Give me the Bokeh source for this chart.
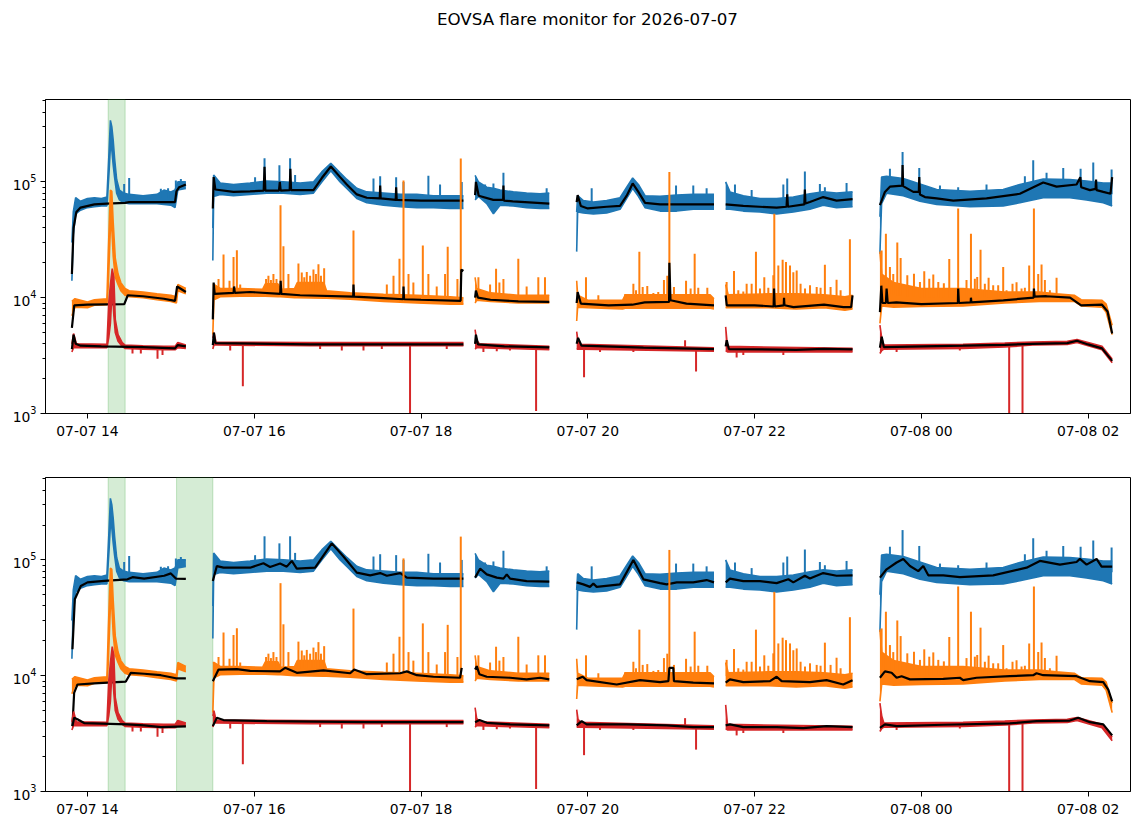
import math
from datetime import datetime
import numpy as np
from bokeh.plotting import figure
from bokeh.layouts import column
from bokeh.models import Range1d, FixedTicker, DatetimeTickFormatter, BoxAnnotation
from bokeh.core.properties import value
from bokeh.embed import file_html
from bokeh.resources import INLINE

TITLE = "EOVSA flare monitor for 2026-07-07"
DAY0 = datetime(2026, 7, 7)
X_MIN, X_MAX = 809.8, 1590.5          # minutes after 2026-07-07 00:00
Y_MIN, Y_MAX = 1e3, 5.15e5
TICK_HOURS = [14, 16, 18, 20, 22, 24, 26]
SPANS_TOP = [(854.9, 867.1)]
SPANS_BOTTOM = [(854.9, 867.1), (904.1, 930.2)]

C_BLUE, C_ORANGE, C_RED, C_GREEN = "#1f77b4", "#ff7f0e", "#d62728", "#2ca02c"

# raw series as (minute, low, high) envelopes per observing segment
BLUE_BAND = [
    [(828.8, 1.4e4, 3.0e4), (829.8, 3.5e4, 5.5e4), (831.5, 5.3e4, 7.3e4), (835, 5.7e4, 6.8e4), (840, 6.0e4, 7.2e4),
     (845, 6.1e4, 7.3e4), (850, 6.2e4, 7.2e4), (854, 6.2e4, 7.4e4), (855.5, 1.2e5, 1.8e5), (856.5, 2.0e5, 3.4e5),
     (857.5, 1.9e5, 3.0e5), (858.5, 1.4e5, 2.3e5), (859.5, 1.1e5, 1.6e5), (861, 8.0e4, 1.05e5), (863, 7.0e4, 8.5e4),
     (866, 6.6e4, 8.0e4), (870, 6.5e4, 7.8e4), (880, 6.5e4, 7.6e4), (890, 6.5e4, 7.8e4), (895, 6.4e4, 8.5e4),
     (900, 6.3e4, 8.2e4), (903, 6.0e4, 8.5e4), (905, 8.5e4, 1.0e5), (910.8, 8.8e4, 1.0e5)],
    [(930.2, 2.1e4, 4.0e4), (930.8, 7.5e4, 1.15e5), (935.5, 7.8e4, 9.8e4), (945.1, 7.6e4, 9.5e4), (957, 7.8e4, 9.8e4),
     (969, 8.0e4, 1.02e5), (981, 8.0e4, 1.0e5), (993, 7.8e4, 9.8e4), (1002.6, 8.0e4, 1.0e5), (1008.6, 1.0e5, 1.22e5),
     (1015.1, 1.25e5, 1.45e5), (1021.8, 1.0e5, 1.2e5), (1026.6, 8.8e4, 1.05e5), (1033.8, 7.2e4, 8.8e4),
     (1041, 6.6e4, 8.2e4), (1053, 6.3e4, 8.0e4), (1065, 6.1e4, 7.8e4), (1077, 6.0e4, 7.8e4), (1088.9, 6.0e4, 7.6e4),
     (1100.9, 5.9e4, 7.6e4), (1110.5, 5.9e4, 7.6e4)],
    [(1118.9, 7.0e4, 1.14e5), (1121.3, 7.5e4, 1.0e5), (1127.3, 6.5e4, 9.0e4), (1132.1, 5.3e4, 8.8e4),
     (1136.9, 6.3e4, 8.5e4), (1146.4, 6.2e4, 8.2e4), (1156, 6.0e4, 8.0e4), (1165.6, 5.9e4, 7.9e4), (1172.3, 5.9e4, 8.0e4)],
    [(1192.0, 2.5e4, 5.5e4), (1192.7, 5.5e4, 7.6e4), (1196.8, 5.4e4, 6.9e4), (1204, 5.3e4, 6.7e4), (1213.6, 5.4e4, 6.9e4),
     (1223.2, 5.8e4, 7.3e4), (1228, 7.2e4, 9.0e4), (1232.3, 8.8e4, 1.08e5), (1236.4, 7.5e4, 9.5e4), (1241.2, 6.0e4, 7.6e4),
     (1252, 5.6e4, 7.5e4), (1264, 5.6e4, 7.7e4), (1275.9, 5.8e4, 7.8e4), (1290.8, 5.8e4, 7.8e4)],
    [(1299.2, 5.8e4, 1.0e5), (1302.3, 5.8e4, 8.2e4), (1311.9, 5.6e4, 7.6e4), (1323.9, 5.5e4, 7.2e4), (1335.9, 5.3e4, 7.2e4),
     (1347.9, 5.5e4, 7.4e4), (1359.8, 5.8e4, 7.9e4), (1369.4, 6.3e4, 8.2e4), (1379, 6.0e4, 8.0e4), (1390.5, 6.1e4, 8.2e4)],
    [(1410.2, 2.4e4, 5.0e4), (1411.4, 6.5e4, 1.1e5), (1415, 8.0e4, 1.12e5), (1427, 7.6e4, 1.07e5), (1439, 6.8e4, 9.6e4),
     (1451, 6.4e4, 8.6e4), (1475, 6.1e4, 8.3e4), (1498.9, 6.2e4, 8.6e4), (1510.9, 6.6e4, 9.5e4), (1527.7, 7.3e4, 1.06e5),
     (1546.9, 7.3e4, 1.05e5), (1558.9, 7.0e4, 1.02e5), (1570.9, 6.6e4, 9.8e4), (1577.3, 6.2e4, 9.8e4)],
]
BLUE_SPIKES = [
    (866.4, 9.6e4), (870, 1.08e5), (892.8, 8.75e4), (898, 8.8e4), (903.6, 1.03e5), (907.2, 1.06e5),
    (960.6, 1.1e5), (967.4, 1.6e5), (978.1, 1.39e5), (985.8, 1.6e5), (989.4, 1.15e5), (1045.8, 1.07e5),
    (1050.6, 1.12e5), (1062.1, 1.1e5), (1067.4, 1.0e5), (1085.3, 1.13e5), (1093.7, 9.5e4), (1109.3, 1.0e5),
    (1126.1, 9.5e4), (1132.1, 9.7e4), (1139.3, 1.2e5), (1170.4, 8.8e4),
    (1202.8, 8.8e4), (1263.5, 9.3e4), (1275.9, 9.3e4), (1285.5, 8.8e4),
    (1305.9, 9.5e4), (1317.9, 8.5e4), (1340.7, 9.5e4), (1343.5, 1.07e5), (1356.2, 1.23e5), (1367.0, 9.6e4),
    (1370.6, 9.0e4), (1386.2, 9.8e4),
    (1417.4, 1.3e5), (1426.5, 1.81e5), (1438.5, 1.32e5), (1453.4, 9.3e4), (1466.5, 9.0e4), (1486.9, 9.5e4),
    (1514.5, 1.12e5), (1520.5, 1.54e5), (1530.1, 1.2e5), (1542.1, 1.32e5), (1554.6, 1.3e5), (1563.7, 1.47e5),
    (1576.9, 1.28e5),
]

ORANGE_BAND = [
    [(828.8, 7.0e3, 9.3e3), (831.0, 8.3e3, 9.8e3), (840, 8.2e3, 9.2e3), (845, 8.6e3, 9.6e3), (854, 8.7e3, 9.8e3),
     (855, 1.3e4, 2.5e4), (856.5, 4.0e4, 8.5e4), (857.5, 4.0e4, 8.3e4), (858.5, 2.3e4, 4.5e4), (860, 1.5e4, 2.2e4),
     (862, 1.3e4, 1.6e4), (864, 1.15e4, 1.35e4), (867, 1.05e4, 1.2e4), (870, 1.02e4, 1.15e4), (880, 1.0e4, 1.12e4),
     (890, 9.6e3, 1.08e4), (900, 9.3e3, 1.05e4), (904, 9.0e3, 1.02e4), (905, 1.15e4, 1.3e4), (910.8, 1.08e4, 1.2e4)],
    [(930.2, 4.8e3, 1.3e4), (931.0, 9.6e3, 1.3e4), (935.5, 1.02e4, 1.2e4), (950, 1.03e4, 1.2e4), (966, 1.03e4, 1.18e4),
     (968, 1.03e4, 1.32e4), (977, 1.02e4, 1.32e4), (979, 1.02e4, 1.18e4), (989, 1.0e4, 1.2e4), (991, 1.0e4, 1.35e4),
     (1010, 9.9e3, 1.35e4), (1012, 9.9e3, 1.15e4), (1029, 9.7e3, 1.1e4), (1053, 9.3e3, 1.07e4), (1077, 9.0e3, 1.05e4),
     (1101, 8.8e3, 1.02e4), (1110.5, 8.8e3, 1.0e4)],
    [(1118.9, 9.0e3, 1.5e4), (1120, 9.5e3, 1.2e4), (1130, 9.3e3, 1.1e4), (1150, 9.0e3, 1.05e4), (1172.3, 9.0e3, 1.05e4)],
    [(1192.0, 6.3e3, 1.4e4), (1192.7, 8.3e3, 1.05e4), (1200, 8.2e3, 9.5e3), (1225, 8.0e3, 9.5e3), (1227, 8.1e3, 1.06e4),
     (1288, 8.1e3, 1.06e4), (1290.8, 8.0e3, 9.8e3)],
    [(1299.2, 8.2e3, 1.3e4), (1301, 8.2e3, 1.06e4), (1330, 8.2e3, 1.08e4), (1350, 8.0e3, 1.08e4), (1370, 8.2e3, 1.06e4),
     (1385, 7.8e3, 1.02e4), (1390.5, 8.0e3, 1.05e4)],
    [(1410.2, 6.0e3, 2.5e4), (1411.5, 8.5e3, 1.6e4), (1420, 8.3e3, 1.35e4), (1440, 8.4e3, 1.2e4), (1470, 8.5e3, 1.2e4),
     (1500, 9.0e3, 1.12e4), (1525, 9.3e3, 1.12e4), (1537, 9.3e3, 1.08e4), (1550, 9.3e3, 1.05e4), (1555, 8.5e3, 9.6e3),
     (1570, 8.3e3, 9.5e3), (1573, 7.5e3, 8.8e3), (1577.3, 4.8e3, 5.8e3)],
]
ORANGE_SPIKES = [
    (934.3, 1.45e4), (937.9, 2.36e4), (942.2, 1.4e4), (945.1, 2.25e4), (947.5, 2.57e4), (949.9, 1.3e4),
    (968.5, 1.45e4), (970.2, 1.55e4), (972.0, 1.42e4), (973.8, 1.6e4), (976.0, 1.45e4), (978.9, 6.3e4),
    (981.0, 2.78e4), (984.6, 1.6e4), (991.8, 1.97e4), (994.2, 1.65e4), (996.0, 1.5e4), (997.8, 1.67e4),
    (1000.2, 1.55e4), (1002.6, 1.75e4), (1004.4, 1.6e4), (1006.2, 1.95e4), (1008.0, 1.55e4), (1010.3, 1.8e4),
    (1031.4, 3.8e4),
    (1055.4, 1.3e4), (1060.2, 1.55e4), (1064.5, 2.17e4), (1067.4, 1.03e5), (1071.0, 1.6e4), (1074.5, 1.35e4),
    (1081.3, 2.83e4), (1085.3, 1.6e4), (1091.3, 1.25e4), (1097.3, 1.6e4), (1099.2, 2.75e4), (1106.2, 1.45e4),
    (1108.6, 1.59e5),
    (1121.3, 1.5e4), (1129.7, 1.3e4), (1134.0, 1.78e4), (1136.4, 1.35e4), (1139.3, 1.45e4), (1150.0, 2.17e4),
    (1156.0, 1.25e4), (1164.4, 1.5e4), (1169.2, 1.5e4),
    (1198.7, 1.5e4), (1207.6, 1.05e4), (1226.8, 1.07e4), (1232.8, 1.32e4), (1234.7, 1.16e4), (1237.1, 2.5e4),
    (1239.5, 1.24e4), (1242.8, 1.26e4), (1247.2, 1.1e4), (1250.7, 1.12e4), (1254.8, 1.42e4), (1257.2, 1.55e4),
    (1258.7, 1.22e5), (1262.0, 1.24e4), (1270.7, 1.4e4), (1274.0, 1.2e4), (1276.9, 2.4e4), (1279.5, 1.22e4),
    (1286.0, 1.22e4),
    (1299.9, 1.37e4), (1305.2, 1.7e4), (1308.3, 1.16e4), (1311.9, 1.13e4), (1314.3, 1.32e4), (1317.9, 1.32e4),
    (1321.0, 2.5e4), (1323.9, 1.2e4), (1327.0, 1.5e4), (1329.9, 1.22e4), (1333.5, 1.56e4), (1334.2, 5.3e4),
    (1337.1, 1.9e4), (1340.2, 2.13e4), (1342.6, 2.03e4), (1345.5, 1.9e4), (1347.9, 1.66e4), (1350.3, 1.72e4),
    (1353.1, 1.32e4), (1356.3, 1.2e4), (1359.9, 1.28e4), (1364.7, 1.24e4), (1367.5, 1.22e4), (1370.6, 1.93e4),
    (1374.7, 1.24e4), (1379.0, 1.43e4), (1381.9, 1.16e4), (1388.6, 3.2e4),
    (1411.4, 2.56e4), (1414.5, 3.57e4), (1417.4, 1.84e4), (1419.8, 1.6e4), (1422.7, 3.0e4), (1425.1, 2.2e4),
    (1429.9, 1.56e4), (1434.7, 1.61e4), (1439.0, 1.37e4), (1442.1, 1.69e4), (1445.7, 1.46e4), (1448.6, 1.59e4),
    (1452.2, 1.37e4), (1456.2, 1.33e4), (1460.1, 2.16e4), (1466.5, 5.9e4), (1472.5, 1.42e4), (1475.7, 3.57e4),
    (1478.5, 1.46e4), (1480.2, 1.51e4), (1482.6, 2.6e4), (1485.7, 1.32e4), (1488.4, 1.49e4), (1491.7, 1.28e4),
    (1495.3, 1.28e4), (1498.9, 1.84e4), (1501.3, 1.16e4), (1505.6, 1.32e4), (1508.5, 1.36e4), (1512.1, 1.2e4),
    (1514.5, 1.22e4), (1517.6, 1.9e4), (1521.0, 5.9e4), (1524.1, 1.6e4), (1526.5, 1.94e4), (1528.9, 1.42e4),
    (1532.5, 1.16e4), (1537.3, 1.49e4),
]

RED_BAND = [
    [(828.8, 3.4e3, 4.0e3), (830, 3.7e3, 4.9e3), (832, 3.7e3, 4.0e3), (854, 3.7e3, 3.95e3), (855.3, 4.5e3, 9.0e3),
     (856.5, 6.0e3, 1.3e4), (857.8, 1.2e4, 1.78e4), (859, 7.0e3, 1.5e4), (860, 5.0e3, 6.5e3), (862, 4.2e3, 4.8e3),
     (865, 3.8e3, 4.1e3), (867, 3.65e3, 3.9e3), (880, 3.6e3, 3.85e3), (895, 3.55e3, 3.8e3), (903, 3.55e3, 3.8e3),
     (905, 3.7e3, 4.1e3), (910.8, 3.65e3, 3.9e3)],
    [(930.2, 3.6e3, 4.5e3), (931, 3.9e3, 5.0e3), (932.5, 3.9e3, 4.15e3), (1000, 3.85e3, 4.1e3), (1110.5, 3.85e3, 4.1e3)],
    [(1118.9, 3.6e3, 5.3e3), (1120, 3.7e3, 4.3e3), (1122, 3.7e3, 4.0e3), (1172.3, 3.55e3, 3.8e3)],
    [(1192.0, 3.6e3, 5.1e3), (1193, 3.6e3, 4.2e3), (1195, 3.6e3, 3.95e3), (1290.8, 3.45e3, 3.7e3)],
    [(1299.2, 3.5e3, 5.6e3), (1300.5, 3.4e3, 3.8e3), (1390.5, 3.4e3, 3.65e3)],
    [(1410.2, 3.3e3, 5.8e3), (1411.5, 3.5e3, 4.5e3), (1413, 3.6e3, 3.9e3), (1470, 3.65e3, 3.95e3), (1500, 3.75e3, 4.05e3),
     (1520, 3.9e3, 4.15e3), (1545, 3.95e3, 4.2e3), (1552, 4.1e3, 4.35e3), (1560, 3.85e3, 4.1e3), (1570, 3.55e3, 3.8e3),
     (1577.3, 2.75e3, 2.95e3)],
]
RED_SPIKES = [
    (872.4, 3.3e3), (878.4, 3.3e3), (890.4, 2.97e3), (894, 3.2e3), (942.7, 3.5e3), (951.8, 1.72e3),
    (1007.4, 3.6e3), (1023, 3.5e3), (1038.6, 3.5e3), (1051.8, 3.6e3), (1072.1, 9e2), (1098.5, 3.6e3),
    (1124.9, 3.4e3), (1134.5, 3.45e3), (1144, 3.5e3), (1162.8, 1.05e3), (1197.3, 2.06e3), (1208.8, 3.4e3),
    (1232.8, 3.4e3), (1270, 4.3e3), (1277.9, 2.3e3), (1307.1, 3.05e3), (1311.9, 3.2e3), (1340.7, 3.2e3),
    (1422.2, 3.4e3), (1467.7, 3.5e3), (1503.2, 9e2), (1512.8, 9e2),
]

# smoothed (black) curves, top panel
BLACK_TOP_BLUE = [
    [(828.8, 1.6e4), (830, 4.0e4), (832, 5.5e4), (835, 6.0e4), (845, 6.4e4), (854, 6.5e4), (867, 6.6e4), (870, 6.7e4),
     (895, 6.7e4), (903, 6.7e4), (904, 8.3e4), (906, 9.0e4), (910.8, 9.5e4)],
    [(930.2, 5.9e4), (930.8, 1.1e5), (932, 8.6e4), (945, 8.2e4), (957, 8.3e4), (966.8, 8.4e4), (967.4, 1.35e5),
     (968, 8.4e4), (977.8, 8.4e4), (978.4, 1.0e5), (979, 8.4e4), (985.5, 8.5e4), (986, 1.3e5), (986.5, 8.5e4),
     (1002.6, 8.5e4), (1008.6, 1.08e5), (1015.1, 1.36e5), (1021.8, 1.1e5), (1026.6, 9.5e4), (1033.8, 7.8e4),
     (1041, 7.3e4), (1050.3, 7.2e4), (1050.6, 9.3e4), (1051, 7.2e4), (1061.8, 7.0e4), (1062.1, 9.0e4),
     (1062.5, 7.0e4), (1080, 6.9e4), (1110.5, 6.9e4)],
    [(1118.9, 7.7e4), (1119.5, 1.0e5), (1121.5, 7.6e4), (1132, 7.0e4), (1139.1, 7.0e4), (1139.3, 9.3e4),
     (1139.6, 6.9e4), (1146, 6.8e4), (1172.3, 6.5e4)],
    [(1192.0, 6.7e4), (1192.7, 7.7e4), (1195, 6.2e4), (1200, 5.9e4), (1213.6, 6.1e4), (1223.2, 6.2e4), (1228, 7.6e4),
     (1232.3, 9.7e4), (1236.4, 8.2e4), (1241.2, 6.6e4), (1252, 6.4e4), (1276, 6.4e4), (1290.8, 6.4e4)],
    [(1299.2, 6.4e4), (1311.9, 6.2e4), (1335.9, 6.0e4), (1343, 6.1e4), (1343.5, 7.8e4), (1344, 6.1e4),
     (1355.8, 6.4e4), (1356.2, 8.6e4), (1356.6, 6.5e4), (1359.8, 6.7e4), (1369.4, 7.4e4), (1379, 6.9e4),
     (1390.5, 7.1e4)],
    [(1410.2, 6.3e4), (1413.8, 8.2e4), (1417.4, 9.1e4), (1426.2, 9.3e4), (1426.5, 1.4e5), (1426.9, 9.2e4),
     (1434.2, 8.2e4), (1438.2, 8.2e4), (1438.5, 1.1e5), (1439, 7.8e4), (1442.6, 7.4e4), (1451, 7.2e4), (1463, 6.9e4),
     (1486.9, 7.2e4), (1510.9, 7.9e4), (1527.7, 9.9e4), (1537.3, 9.1e4), (1551.7, 9.5e4), (1554.4, 1.1e5),
     (1555, 9.0e4), (1561.3, 8.5e4), (1565.4, 8.7e4), (1565.7, 1.05e5), (1566.1, 8.5e4), (1570.9, 8.2e4),
     (1576.1, 7.9e4), (1577.3, 1.1e5)],
]
BLACK_TOP_ORANGE = [
    [(828.8, 5.5e3), (830.5, 8.6e3), (840, 8.7e3), (866.5, 8.8e3), (869, 1.05e4), (880, 1.03e4), (895, 9.8e3),
     (903, 9.4e3), (904.5, 1.25e4), (910.8, 1.12e4)],
    [(930.2, 6.5e3), (930.8, 1.35e4), (931.5, 1.08e4), (945.1, 1.1e4), (945.5, 1.25e4), (946, 1.1e4), (957, 1.12e4),
     (978.7, 1.08e4), (979, 1.4e4), (979.5, 1.08e4), (993, 1.05e4), (1031.2, 1.02e4), (1031.4, 1.3e4),
     (1031.8, 1.02e4), (1053, 9.9e3), (1067.2, 9.7e3), (1067.4, 1.25e4), (1067.8, 9.7e3), (1080, 9.6e3),
     (1108.5, 9.4e3), (1109, 1.75e4), (1110.5, 1.7e4)],
    [(1118.9, 1.0e4), (1119.5, 1.15e4), (1121, 1.0e4), (1130, 9.6e3), (1150, 9.3e3), (1172.3, 9.2e3)],
    [(1192.0, 9.0e3), (1192.7, 1.12e4), (1195, 8.9e3), (1215, 8.6e3), (1232, 8.7e3), (1241, 9.1e3), (1258.5, 9.2e3),
     (1258.7, 2.0e4), (1259.5, 9.5e3), (1271, 8.9e3), (1290.8, 8.6e3)],
    [(1299.2, 1.05e4), (1300, 8.6e3), (1320, 8.6e3), (1333.7, 8.4e3), (1334, 1.2e4), (1334.5, 8.4e3), (1341, 8.6e3),
     (1341.2, 1.0e4), (1341.5, 8.6e3), (1348, 8.3e3), (1370, 8.7e3), (1384, 8.3e3), (1389.5, 8.3e3), (1390.5, 1.05e4)],
    [(1410.2, 7.5e3), (1411.2, 1.27e4), (1412, 9.0e3), (1414.5, 9.0e3), (1415, 1.2e4), (1415.8, 9.0e3), (1422, 9.1e3),
     (1440, 8.8e3), (1466.3, 9.0e3), (1466.5, 1.2e4), (1467, 9.0e3), (1475.5, 9.1e3), (1475.7, 1.0e4), (1476, 9.1e3),
     (1499, 9.5e3), (1520.8, 1.0e4), (1521, 1.2e4), (1521.5, 1.02e4), (1530, 1.03e4), (1547, 1.0e4), (1555, 8.6e3),
     (1570, 8.7e3), (1574, 7.6e3), (1577.3, 4.9e3)],
]
BLACK_TOP_RED = [
    [(828.8, 3.6e3), (830, 4.8e3), (831.5, 4.0e3), (835, 3.85e3), (850, 3.8e3), (880, 3.75e3), (903, 3.65e3),
     (905, 3.9e3), (910.8, 3.8e3)],
    [(930.2, 3.9e3), (931, 5.0e3), (932, 4.05e3), (1000, 3.95e3), (1110.5, 3.95e3)],
    [(1118.9, 4.0e3), (1119.5, 4.8e3), (1121, 3.95e3), (1140, 3.8e3), (1172.3, 3.72e3)],
    [(1192.0, 4.0e3), (1193, 4.5e3), (1195.5, 3.85e3), (1240, 3.7e3), (1290.8, 3.6e3)],
    [(1299.2, 3.8e3), (1300, 4.3e3), (1301.5, 3.6e3), (1350, 3.55e3), (1370, 3.62e3), (1390.5, 3.58e3)],
    [(1410.2, 3.7e3), (1411.5, 4.6e3), (1413, 3.75e3), (1470, 3.85e3), (1500, 3.92e3), (1520, 4.0e3), (1545, 4.05e3),
     (1552, 4.25e3), (1560, 3.95e3), (1570, 3.65e3), (1577.3, 2.85e3)],
]

# smoothed (black) curves, bottom panel
BLACK_BOT_BLUE = [
    [(829.2, 1.69e4), (830.9, 4.57e4), (835.2, 5.96e4), (840.0, 6.4e4), (852.0, 6.6e4), (868.8, 6.8e4), (872.4, 7.1e4),
     (880.8, 6.9e4), (895.2, 7.3e4), (900.0, 7.65e4), (903.6, 6.9e4), (910.8, 6.85e4)],
    [(930.2, 6.57e4), (933.1, 8.85e4), (937.9, 8.57e4), (957.0, 8.57e4), (966.6, 9.35e4), (971.4, 8.7e4),
     (978.6, 9.3e4), (983.4, 8.75e4), (987.0, 9.8e4), (990.6, 8.4e4), (1003.8, 8.57e4), (1015.8, 1.39e5),
     (1024.2, 1.07e5), (1033.8, 7.76e4), (1043.4, 7.36e4), (1050.6, 7.7e4), (1055.4, 7.3e4), (1065.0, 7.7e4),
     (1069.8, 7.03e4), (1088.9, 6.9e4), (1110.5, 6.9e4)],
    [(1118.9, 7.03e4), (1122.5, 8.4e4), (1127.3, 7.5e4), (1134.5, 7.03e4), (1139.3, 6.9e4), (1141.7, 7.5e4),
     (1144.1, 6.9e4), (1156.0, 6.57e4), (1172.3, 6.5e4)],
    [(1192.0, 6.4e4), (1196.8, 6.15e4), (1201.6, 5.85e4), (1204.0, 6.25e4), (1206.4, 5.85e4), (1223.2, 6.15e4),
     (1232.8, 1.0e5), (1240.0, 6.8e4), (1252.0, 6.3e4), (1256.8, 6.15e4), (1264.0, 6.4e4), (1275.9, 6.4e4),
     (1285.5, 6.7e4), (1290.8, 6.4e4)],
    [(1299.2, 6.4e4), (1302.3, 6.9e4), (1311.9, 6.57e4), (1323.9, 6.57e4), (1335.9, 6.3e4), (1344.3, 6.8e4),
     (1347.9, 6.4e4), (1356.2, 7.3e4), (1359.8, 6.9e4), (1369.4, 7.7e4), (1379.0, 7.3e4), (1390.5, 7.36e4)],
    [(1410.2, 7.03e4), (1415.0, 8.3e4), (1422.2, 9.5e4), (1427.0, 1.02e5), (1431.8, 8.85e4), (1437.8, 8.0e4),
     (1441.4, 8.85e4), (1445.0, 7.36e4), (1455.8, 7.36e4), (1467.7, 7.1e4), (1491.7, 7.36e4), (1515.7, 8.57e4),
     (1525.3, 9.8e4), (1539.7, 9.1e4), (1551.7, 9.6e4), (1554.1, 1.02e5), (1558.9, 9.1e4), (1566.1, 1.02e5),
     (1569.7, 8.75e4), (1577.3, 8.75e4)],
]
BLACK_BOT_ORANGE = [
    [(829.2, 3.67e3), (830.4, 7.1e3), (832.8, 8.4e3), (844.8, 8.6e3), (867.6, 8.9e3), (871.2, 1.06e4), (880.8, 1.04e4),
     (892.8, 1.01e4), (903.6, 9.5e3), (910.8, 9.5e3)],
    [(930.2, 8.97e3), (934.3, 1.13e4), (947.5, 1.14e4), (957.0, 1.1e4), (978.6, 1.09e4), (982.2, 1.17e4),
     (990.6, 1.06e4), (1009.8, 1.11e4), (1029.0, 1.05e4), (1031.9, 1.13e4), (1041.0, 1.03e4), (1065.0, 1.05e4),
     (1069.8, 1.09e4), (1077.0, 1.01e4), (1088.9, 9.8e3), (1108.1, 9.6e3), (1109.3, 1.17e4)],
    [(1118.9, 1.13e4), (1120.1, 1.21e4), (1122.0, 1.03e4), (1127.3, 9.8e3), (1144.1, 9.6e3), (1156.0, 9.3e3),
     (1165.6, 9.6e3), (1172.3, 9.3e3)],
    [(1192.0, 9.3e3), (1196.3, 9.8e3), (1199.2, 9.15e3), (1220.8, 8.4e3), (1237.6, 9.15e3), (1252.0, 8.8e3),
     (1258.0, 8.97e3), (1258.7, 1.17e4), (1261.5, 1.17e4), (1262.0, 8.97e3), (1275.9, 8.7e3), (1290.8, 8.6e3)],
    [(1299.2, 8.7e3), (1302.3, 9.3e3), (1311.9, 8.8e3), (1331.1, 8.97e3), (1335.9, 9.8e3), (1339.5, 8.97e3),
     (1359.8, 8.8e3), (1371.8, 9.15e3), (1383.8, 8.4e3), (1390.5, 9.15e3)],
    [(1410.2, 9.6e3), (1413.8, 1.09e4), (1418.6, 1.06e4), (1422.2, 9.6e3), (1425.8, 9.9e3), (1431.8, 9.3e3),
     (1455.8, 9.4e3), (1467.7, 9.6e3), (1470.1, 9.15e3), (1479.7, 9.6e3), (1503.7, 9.9e3), (1520.5, 1.01e4),
     (1522.9, 1.05e4), (1527.7, 1.01e4), (1551.7, 9.9e3), (1561.3, 8.97e3), (1570.9, 8.8e3), (1574.5, 7.6e3),
     (1577.3, 6.0e3)],
]
BLACK_BOT_RED = [
    [(829.2, 3.67e3), (830.4, 4.33e3), (832.8, 4.2e3), (837.6, 3.9e3), (868.8, 3.8e3), (880.8, 3.72e3),
     (892.8, 3.6e3), (910.8, 3.65e3)],
    [(930.2, 3.67e3), (933.1, 4.33e3), (937.9, 4.14e3), (969.0, 4.05e3), (1041.0, 3.97e3), (1110.5, 3.97e3)],
    [(1118.9, 3.97e3), (1122.0, 4.14e3), (1127.3, 3.92e3), (1144.1, 3.8e3), (1172.3, 3.72e3)],
    [(1192.0, 3.72e3), (1195.6, 4.05e3), (1199.2, 3.8e3), (1228.0, 3.8e3), (1256.8, 3.72e3), (1275.9, 3.6e3),
     (1290.8, 3.6e3)],
    [(1299.2, 3.72e3), (1302.3, 3.8e3), (1311.9, 3.6e3), (1335.9, 3.6e3), (1355.0, 3.52e3), (1371.8, 3.67e3),
     (1390.5, 3.6e3)],
    [(1410.2, 3.55e3), (1413.8, 3.8e3), (1422.2, 3.67e3), (1455.8, 3.77e3), (1503.7, 3.87e3), (1522.9, 4.05e3),
     (1546.9, 4.1e3), (1552.9, 4.33e3), (1561.3, 3.97e3), (1570.9, 3.8e3), (1577.3, 3.05e3)],
]

EPOCH_MS = (DAY0 - datetime(1970, 1, 1)).total_seconds() * 1000.0


def ms(minute):
    return EPOCH_MS + minute * 60000.0


def band_center(band, t):
    for seg in band:
        if seg[0][0] <= t <= seg[-1][0]:
            ts = [r[0] for r in seg]
            lg = [0.5 * (math.log10(r[1]) + math.log10(r[2])) for r in seg]
            return 10 ** float(np.interp(t, ts, lg))
    return None


def draw_band(p, band, spikes, color):
    for seg in band:
        t = [ms(r[0]) for r in seg]
        lo = [r[1] for r in seg]
        hi = [r[2] for r in seg]
        p.varea(x=t, y1=lo, y2=hi, fill_color=color, fill_alpha=1.0)
        p.line(t, lo, line_color=color, line_width=1.6)
        p.line(t, hi, line_color=color, line_width=1.6)
    xs, y0, y1 = [], [], []
    for t, v in spikes:
        b = band_center(band, t)
        if b is None:
            continue
        xs.append(ms(t)); y0.append(b); y1.append(v)
    p.segment(x0=xs, y0=y0, x1=xs, y1=y1, line_color=color, line_width=2)


def draw_black(p, curves):
    for seg in curves:
        p.line([ms(r[0]) for r in seg], [r[1] for r in seg], line_color="black", line_width=2.2)


def make_panel(black_blue, black_orange, black_red, spans, border_top, border_bottom):
    p = figure(x_axis_type="datetime", y_axis_type="log",
               x_range=Range1d(ms(X_MIN), ms(X_MAX)), y_range=Range1d(Y_MIN, Y_MAX),
               frame_width=1085, frame_height=314,
               min_border_left=45, min_border_right=12,
               min_border_top=border_top, min_border_bottom=border_bottom,
               toolbar_location=None, output_backend="svg")
    p.xgrid.visible = False
    p.ygrid.visible = False
    p.outline_line_color = "black"
    p.outline_line_width = 1
    p.outline_line_alpha = 1.0

    for a, b in spans:
        p.add_layout(BoxAnnotation(left=ms(a), right=ms(b), fill_color=C_GREEN, fill_alpha=0.2,
                                   line_color=C_GREEN, line_alpha=0.25, line_width=1, level="underlay"))

    draw_band(p, BLUE_BAND, BLUE_SPIKES, C_BLUE)
    draw_black(p, black_blue)
    draw_band(p, ORANGE_BAND, ORANGE_SPIKES, C_ORANGE)
    draw_black(p, black_orange)
    draw_band(p, RED_BAND, RED_SPIKES, C_RED)
    draw_black(p, black_red)

    xa = p.xaxis[0]
    xa.ticker = FixedTicker(ticks=[ms(h * 60) for h in TICK_HOURS], minor_ticks=[])
    fmt = "%m-%d %H"
    xa.formatter = DatetimeTickFormatter(microseconds=fmt, milliseconds=fmt, seconds=fmt, minsec=fmt,
                                         minutes=fmt, hourmin=fmt, hours=fmt, days=fmt, months=fmt, years=fmt)
    ya = p.yaxis[0]
    minors = [m * 10 ** e for e in (3, 4) for m in range(2, 10)] + [2e5, 3e5, 4e5, 5e5]
    ya.ticker = FixedTicker(ticks=[1e3, 1e4, 1e5], minor_ticks=minors)
    for ax in (xa, ya):
        ax.axis_line_color = "black"
        ax.axis_line_width = 1
        ax.major_tick_line_color = "black"
        ax.minor_tick_line_color = "black"
        ax.major_tick_out = 5
        ax.major_tick_in = 0
        ax.minor_tick_out = 3
        ax.minor_tick_in = 0
        ax.major_label_text_font = "DejaVu Sans"
        ax.major_label_text_font_size = "13.9px"
        ax.major_label_text_color = "black"
        ax.major_label_standoff = 4
    return p


title_fig = figure(width=1142, height=38, x_range=Range1d(0, 1), y_range=Range1d(0, 1),
                   x_axis_location=None, y_axis_location=None, min_border=0,
                   toolbar_location=None, output_backend="svg")
title_fig.grid.visible = False
title_fig.outline_line_color = None
title_fig.text(x=[0.4995], y=[0.526], text=[TITLE], text_align="center", text_baseline="middle",
               text_font=value("DejaVu Sans"), text_font_size="16.7px", text_color="black")

top = make_panel(BLACK_TOP_BLUE, BLACK_TOP_ORANGE, BLACK_TOP_RED, SPANS_TOP, 61, 32)
bottom = make_panel(BLACK_BOT_BLUE, BLACK_BOT_ORANGE, BLACK_BOT_RED, SPANS_BOTTOM, 32, 24)

layout = column(title_fig, top, bottom)
open("out.html", "w").write(file_html(layout, INLINE, title=TITLE))
